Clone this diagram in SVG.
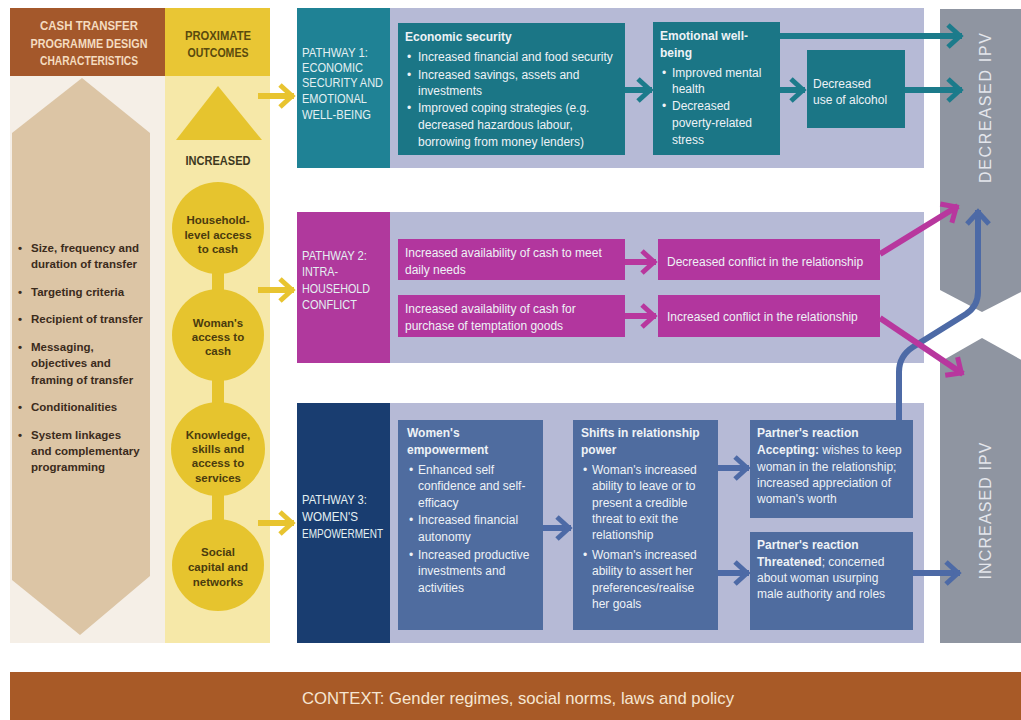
<svg xmlns="http://www.w3.org/2000/svg" width="1021" height="720" viewBox="0 0 1021 720">
<style>
text{font-family:"Liberation Sans",Arial,sans-serif}
.hdr{font-weight:bold;font-size:13px}
.lst{font-weight:bold;font-size:11.5px;fill:#3b2b1c}
.circ{font-weight:bold;font-size:11.5px;fill:#4a3b0e;text-anchor:middle}
.plab{font-size:13px;fill:#e4f0f2}
.body{font-size:12px;fill:#eef2f6}
.bt{font-weight:bold}
.ipv{font-size:16px;fill:#e4e6ec;text-anchor:middle;dominant-baseline:central}
.conn{fill:none;stroke-width:6}
.yel{stroke:#e8c430}
.teal{stroke:#1c7b8b}
.mag{stroke:#b8379e}
.blu{stroke:#4d6aa6}
</style>
<defs>
<marker id="mY" markerUnits="userSpaceOnUse" viewBox="0 0 20 28" markerWidth="20" markerHeight="28" refX="18" refY="14" orient="auto"><path d="M4,3 L16,14 L4,25" fill="none" stroke="#e8c430" stroke-width="5"/></marker>
<marker id="mT" markerUnits="userSpaceOnUse" viewBox="0 0 20 28" markerWidth="20" markerHeight="28" refX="18" refY="14" orient="auto"><path d="M4,3 L16,14 L4,25" fill="none" stroke="#1c7b8b" stroke-width="5"/></marker>
<marker id="mM" markerUnits="userSpaceOnUse" viewBox="0 0 20 28" markerWidth="20" markerHeight="28" refX="18" refY="14" orient="auto"><path d="M4,3 L16,14 L4,25" fill="none" stroke="#b8379e" stroke-width="5"/></marker>
<marker id="mB" markerUnits="userSpaceOnUse" viewBox="0 0 20 28" markerWidth="20" markerHeight="28" refX="18" refY="14" orient="auto"><path d="M4,3 L16,14 L4,25" fill="none" stroke="#4d6aa6" stroke-width="5"/></marker>
</defs>
<rect width="1021" height="720" fill="#ffffff"/>

<g id="design-characteristics">
<rect x="10" y="76" width="155" height="567" fill="#f5efe7"/>
<polygon points="82,78 150,133 150,576 80,635 12,580 12,133" fill="#dcc5a5"/>
<rect x="10" y="8" width="155" height="68" fill="#a4582b"/>
<text class="hdr" fill="#f4dcc0" text-anchor="middle"><tspan x="89" y="30" textLength="98" lengthAdjust="spacingAndGlyphs">CASH TRANSFER</tspan><tspan x="89" y="48" textLength="117" lengthAdjust="spacingAndGlyphs">PROGRAMME DESIGN</tspan><tspan x="89" y="65" textLength="98" lengthAdjust="spacingAndGlyphs">CHARACTERISTICS</tspan></text>
<g class="lst">
<text x="18" y="252">•</text><text x="31" y="252">Size, frequency and</text><text x="31" y="268">duration of transfer</text>
<text x="18" y="296">•</text><text x="31" y="296">Targeting criteria</text>
<text x="18" y="323">•</text><text x="31" y="323">Recipient of transfer</text>
<text x="18" y="351">•</text><text x="31" y="351">Messaging,</text><text x="31" y="367">objectives and</text><text x="31" y="384">framing of transfer</text>
<text x="18" y="411">•</text><text x="31" y="411">Conditionalities</text>
<text x="18" y="439">•</text><text x="31" y="439">System linkages</text><text x="31" y="455">and complementary</text><text x="31" y="471">programming</text>
</g>
</g>

<g id="proximate-outcomes">
<rect x="165" y="76" width="105" height="567" fill="#f6e8a8"/>
<rect x="165" y="8" width="105" height="68" fill="#e9c634"/>
<text class="hdr" fill="#5a4a0e" text-anchor="middle"><tspan x="218" y="40" textLength="66" lengthAdjust="spacingAndGlyphs">PROXIMATE</tspan><tspan x="218" y="57" textLength="61" lengthAdjust="spacingAndGlyphs">OUTCOMES</tspan></text>
<polygon points="218,86 262,140 176,140" fill="#e6c42e"/>
<text class="hdr" fill="#3d3820" text-anchor="middle" x="218" y="165" textLength="65" lengthAdjust="spacingAndGlyphs">INCREASED</text>
<rect x="212" y="228" width="12" height="337" fill="#e6c42e"/>
</g>
<g id="household-cash">
<circle cx="218" cy="228" r="46" fill="#e6c42e"/>
<text class="circ"><tspan x="218" y="224">Household-</tspan><tspan x="218" y="239">level access</tspan><tspan x="218" y="253">to cash</tspan></text>
</g>
<g id="woman-cash">
<circle cx="218" cy="335" r="46" fill="#e6c42e"/>
<text class="circ"><tspan x="218" y="327">Woman's</tspan><tspan x="218" y="341">access to</tspan><tspan x="218" y="355">cash</tspan></text>
</g>
<g id="knowledge">
<circle cx="218" cy="449" r="47" fill="#e6c42e"/>
<text class="circ"><tspan x="218" y="439">Knowledge,</tspan><tspan x="218" y="453">skills and</tspan><tspan x="218" y="467">access to</tspan><tspan x="218" y="482">services</tspan></text>
</g>
<g id="social-capital">
<circle cx="218" cy="565" r="46" fill="#e6c42e"/>
<text class="circ"><tspan x="218" y="556">Social</tspan><tspan x="218" y="571">capital and</tspan><tspan x="218" y="586">networks</tspan></text>
</g>

<g id="pathway1">
<rect x="390" y="8" width="534" height="160" fill="#b6bad6"/>
<rect x="297" y="8" width="93" height="160" fill="#1f8295"/>
<text class="plab"><tspan x="302" y="57" textLength="66" lengthAdjust="spacingAndGlyphs">PATHWAY 1:</tspan><tspan x="302" y="72" textLength="61" lengthAdjust="spacingAndGlyphs">ECONOMIC</tspan><tspan x="302" y="87" textLength="81" lengthAdjust="spacingAndGlyphs">SECURITY AND</tspan><tspan x="302" y="103" textLength="65" lengthAdjust="spacingAndGlyphs">EMOTIONAL</tspan><tspan x="302" y="119" textLength="69" lengthAdjust="spacingAndGlyphs">WELL-BEING</tspan></text>
</g>
<g id="economic-security">
<rect x="398" y="23" width="227" height="132" fill="#1b7686"/>
<text class="body"><tspan class="bt" x="405" y="41">Economic security</tspan><tspan x="407" y="61">•</tspan><tspan x="418" y="61">Increased financial and food security</tspan><tspan x="407" y="79">•</tspan><tspan x="418" y="79">Increased savings, assets and</tspan><tspan x="418" y="95">investments</tspan><tspan x="407" y="112">•</tspan><tspan x="418" y="112">Improved coping strategies (e.g.</tspan><tspan x="418" y="129">decreased hazardous labour,</tspan><tspan x="418" y="146">borrowing from money lenders)</tspan></text>
</g>
<g id="emotional-wellbeing">
<rect x="653" y="22" width="127" height="133" fill="#1b7686"/>
<text class="body"><tspan class="bt" x="660" y="40">Emotional well-</tspan><tspan class="bt" x="660" y="57">being</tspan><tspan x="662" y="77">•</tspan><tspan x="672" y="77">Improved mental</tspan><tspan x="672" y="93">health</tspan><tspan x="662" y="110">•</tspan><tspan x="672" y="110">Decreased</tspan><tspan x="672" y="127">poverty-related</tspan><tspan x="672" y="144">stress</tspan></text>
</g>
<g id="decreased-alcohol">
<rect x="807" y="50" width="98" height="78" fill="#1b7686"/>
<text class="body"><tspan x="813" y="88">Decreased</tspan><tspan x="813" y="104">use of alcohol</tspan></text>
</g>

<g id="pathway2">
<rect x="390" y="212" width="534" height="151" fill="#b6bad6"/>
<rect x="297" y="212" width="93" height="151" fill="#b0399d"/>
<text class="plab" fill="#f6e6f2"><tspan x="302" y="260" textLength="65" lengthAdjust="spacingAndGlyphs">PATHWAY 2:</tspan><tspan x="302" y="276" textLength="36" lengthAdjust="spacingAndGlyphs">INTRA-</tspan><tspan x="302" y="293" textLength="68" lengthAdjust="spacingAndGlyphs">HOUSEHOLD</tspan><tspan x="302" y="309" textLength="55" lengthAdjust="spacingAndGlyphs">CONFLICT</tspan></text>
</g>
<g id="cash-daily-needs">
<rect x="398" y="239" width="227" height="41" fill="#b2369e"/>
<text class="body"><tspan x="405" y="257">Increased availability of cash to meet</tspan><tspan x="405" y="274">daily needs</tspan></text>
</g>
<g id="cash-temptation">
<rect x="398" y="295" width="227" height="42" fill="#b2369e"/>
<text class="body"><tspan x="405" y="313">Increased availability of cash for</tspan><tspan x="405" y="330">purchase of temptation goods</tspan></text>
</g>
<g id="decreased-conflict">
<rect x="658" y="239" width="222" height="41" fill="#b2369e"/>
<text class="body" x="667" y="266">Decreased conflict in the relationship</text>
</g>
<g id="increased-conflict">
<rect x="658" y="295" width="222" height="42" fill="#b2369e"/>
<text class="body" x="667" y="321">Increased conflict in the relationship</text>
</g>

<g id="pathway3">
<rect x="390" y="403" width="534" height="240" fill="#b6bad6"/>
<rect x="297" y="403" width="93" height="240" fill="#193d70"/>
<text class="plab"><tspan x="302" y="504" textLength="65" lengthAdjust="spacingAndGlyphs">PATHWAY 3:</tspan><tspan x="302" y="521" textLength="56" lengthAdjust="spacingAndGlyphs">WOMEN'S</tspan><tspan x="302" y="538" textLength="81" lengthAdjust="spacingAndGlyphs">EMPOWERMENT</tspan></text>
</g>
<g id="womens-empowerment">
<rect x="398" y="420" width="145" height="210" fill="#4f6c9f"/>
<text class="body"><tspan class="bt" x="407" y="437">Women's</tspan><tspan class="bt" x="407" y="454">empowerment</tspan><tspan x="409" y="474">•</tspan><tspan x="418" y="474">Enhanced self</tspan><tspan x="418" y="490">confidence and self-</tspan><tspan x="418" y="507">efficacy</tspan><tspan x="409" y="524">•</tspan><tspan x="418" y="524">Increased financial</tspan><tspan x="418" y="541">autonomy</tspan><tspan x="409" y="559">•</tspan><tspan x="418" y="559">Increased productive</tspan><tspan x="418" y="575">investments and</tspan><tspan x="418" y="592">activities</tspan></text>
</g>
<g id="relationship-power">
<rect x="573" y="420" width="145" height="210" fill="#4f6c9f"/>
<text class="body"><tspan class="bt" x="581" y="437">Shifts in relationship</tspan><tspan class="bt" x="581" y="454">power</tspan><tspan x="583" y="474">•</tspan><tspan x="592" y="474">Woman's increased</tspan><tspan x="592" y="490">ability to leave or to</tspan><tspan x="592" y="507">present a credible</tspan><tspan x="592" y="523">threat to exit the</tspan><tspan x="592" y="539">relationship</tspan><tspan x="583" y="559">•</tspan><tspan x="592" y="559">Woman's increased</tspan><tspan x="592" y="575">ability to assert her</tspan><tspan x="592" y="592">preferences/realise</tspan><tspan x="592" y="608">her goals</tspan></text>
</g>
<g id="partner-accepting">
<rect x="750" y="420" width="163" height="98" fill="#4f6c9f"/>
<text class="body"><tspan class="bt" x="757" y="437">Partner's reaction</tspan><tspan x="757" y="454"><tspan class="bt">Accepting:</tspan> wishes to keep</tspan><tspan x="757" y="471">woman in the relationship;</tspan><tspan x="757" y="487">increased appreciation of</tspan><tspan x="757" y="503">woman's worth</tspan></text>
</g>
<g id="partner-threatened">
<rect x="750" y="532" width="163" height="98" fill="#4f6c9f"/>
<text class="body"><tspan class="bt" x="757" y="549">Partner's reaction</tspan><tspan x="757" y="566"><tspan class="bt">Threatened</tspan>; concerned</tspan><tspan x="757" y="582">about woman usurping</tspan><tspan x="757" y="598">male authority and roles</tspan></text>
</g>

<g id="decreased-ipv">
<polygon points="940,9 1025,9 1025,290 982,312 940,290" fill="#8f95a1"/>
<text class="ipv" transform="translate(985,108) rotate(-90)" x="0" y="0" textLength="150" lengthAdjust="spacing">DECREASED IPV</text>
</g>
<g id="increased-ipv">
<polygon points="940,362 982,338 1025,362 1025,643 940,643" fill="#8f95a1"/>
<text class="ipv" transform="translate(985,511) rotate(-90)" x="0" y="0" textLength="137" lengthAdjust="spacing">INCREASED IPV</text>
</g>

<g id="context">
<rect x="10" y="672" width="1011" height="48" fill="#a85a27"/>
<text x="518" y="704" text-anchor="middle" font-size="17" fill="#f6e6d2" textLength="432" lengthAdjust="spacingAndGlyphs">CONTEXT: Gender regimes, social norms, laws and policy</text>
</g>

<g id="connectors">
<path class="conn yel" d="M258,96 L294,96" marker-end="url(#mY)"/>
<path class="conn yel" d="M258,290 L294,290" marker-end="url(#mY)"/>
<path class="conn yel" d="M258,523 L294,523" marker-end="url(#mY)"/>
<path class="conn teal" d="M625,90 L652,90" marker-end="url(#mT)"/>
<path class="conn teal" d="M780,90 L805,90" marker-end="url(#mT)"/>
<path class="conn teal" d="M780,36 L962,36" marker-end="url(#mT)"/>
<path class="conn teal" d="M905,90 L962,90" marker-end="url(#mT)"/>
<path class="conn mag" d="M625,262 L656,262" marker-end="url(#mM)"/>
<path class="conn mag" d="M625,316 L656,316" marker-end="url(#mM)"/>
<path class="conn blu" d="M899,420 L899,372 Q899,356 913,347 L966,314 Q978,306 978,292 L978,210" marker-end="url(#mB)"/>
<path class="conn mag" d="M880,254 L958,206" marker-end="url(#mM)"/>
<path class="conn mag" d="M880,318 L963,374" marker-end="url(#mM)"/>
<path class="conn blu" d="M543,528 L571,528" marker-end="url(#mB)"/>
<path class="conn blu" d="M718,468 L749,468" marker-end="url(#mB)"/>
<path class="conn blu" d="M718,573 L749,573" marker-end="url(#mB)"/>
<path class="conn blu" d="M913,573 L960,573" marker-end="url(#mB)"/>
</g>
</svg>
